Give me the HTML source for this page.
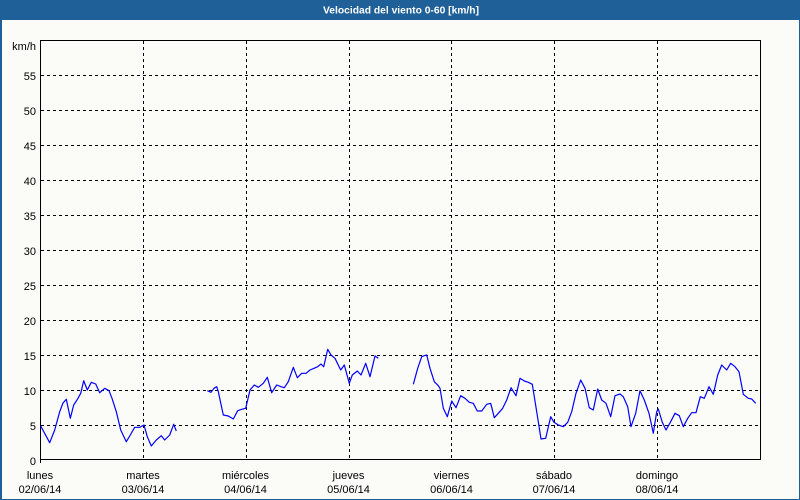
<!DOCTYPE html>
<html><head><meta charset="utf-8"><style>
html,body{margin:0;padding:0;background:#fbfcf8;}
svg{display:block;}
text{font-family:"Liberation Sans",Arial,sans-serif;}
</style></head><body>
<svg width="800" height="500" viewBox="0 0 800 500" xmlns="http://www.w3.org/2000/svg">
<rect x="0" y="0" width="800" height="500" fill="#fbfcf8"/>
<!-- outer border -->
<rect x="0" y="0" width="2" height="500" fill="#1f6098"/>
<rect x="799" y="0" width="1" height="500" fill="#1f6098"/>
<rect x="0" y="499" width="800" height="1" fill="#1f6098"/>
<!-- title bar -->
<rect x="0" y="0" width="800" height="20" fill="#1f6098"/>
<text x="401" y="13.5" fill="#ffffff" font-size="10.5" font-weight="bold" text-anchor="middle" textLength="156" lengthAdjust="spacingAndGlyphs">Velocidad del viento 0-60 [km/h]</text>

<!-- grid -->
<g stroke="#000" stroke-width="1" stroke-dasharray="3,3" shape-rendering="crispEdges" fill="none">
<line x1="41" y1="75.5" x2="760" y2="75.5"/>
<line x1="41" y1="110.5" x2="760" y2="110.5"/>
<line x1="41" y1="145.5" x2="760" y2="145.5"/>
<line x1="41" y1="180.5" x2="760" y2="180.5"/>
<line x1="41" y1="215.5" x2="760" y2="215.5"/>
<line x1="41" y1="250.5" x2="760" y2="250.5"/>
<line x1="41" y1="285.5" x2="760" y2="285.5"/>
<line x1="41" y1="320.5" x2="760" y2="320.5"/>
<line x1="41" y1="355.5" x2="760" y2="355.5"/>
<line x1="41" y1="390.5" x2="760" y2="390.5"/>
<line x1="41" y1="425.5" x2="760" y2="425.5"/>
<line x1="143.5" y1="41" x2="143.5" y2="460"/>
<line x1="246.5" y1="41" x2="246.5" y2="460"/>
<line x1="349.5" y1="41" x2="349.5" y2="460"/>
<line x1="451.5" y1="41" x2="451.5" y2="460"/>
<line x1="554.5" y1="41" x2="554.5" y2="460"/>
<line x1="657.5" y1="41" x2="657.5" y2="460"/>
</g>

<!-- frame -->
<g stroke="#000" stroke-width="1" shape-rendering="crispEdges" fill="none">
<line x1="40.5" y1="40" x2="40.5" y2="463"/>
<line x1="40" y1="40.5" x2="761" y2="40.5"/>
<line x1="760.5" y1="40" x2="760.5" y2="460"/>
<line x1="40" y1="459.5" x2="761" y2="459.5"/>
</g>

<!-- data -->
<g stroke="#0000ff" stroke-width="1.2" fill="none" stroke-linejoin="round">
<polyline points="40.7,426 49.7,442.7 54.7,430 59.7,411.7 63,403 66.3,399.3 70.3,418.3 73.7,405 78,398.3 80.7,393.3 83.7,380.7 87.3,390 91.3,382.3 95.7,384 99.7,392.7 104.7,388.3 109,390.7 112,398.3 116.3,411.7 120.7,430 126.3,441.7 130.3,435 134.7,427.3 139.7,427.3 144,425 147.3,436.7 151.3,446 156.3,440 161.3,435.7 164.7,440 169.7,435 173.7,424.3 176.3,431"/>
<polyline points="207.3,390.7 211,392.3 214,388.3 216.7,386.7 218.3,391.7 223.3,415 228.3,416 233.3,419 237.7,410.7 241.7,409.3 245.7,408.3 250,390 254.3,385 258.3,387.3 263.3,383.3 267.3,377.3 271.7,392.7 276.7,385 281,386.7 284.3,387.7 288.3,381.7 293.3,367.3 297.3,377.7 301.7,373.3 306,373.3 310,370 314,368.3 317.7,366.7 321,364 323.7,366.7 327.7,349.3 331,355 335,358.3 340.7,370 344.3,365 349.3,383.3 352.3,375 357.3,371 361,375 365.7,363.3 370,376.7 375,356 378.3,358.3"/>
<polyline points="413.3,384.3 417.7,368.3 421.7,356.7 424.3,355.7 426.7,355 430,368.3 434.3,381.7 438.3,385.7 440,388.3 443.3,408.3 447.3,416.7 451.7,401 456,407.7 460.7,395.7 465,398.3 469.3,402.3 473.3,403.3 477.3,411 481.7,411 486.7,404.3 490.7,403.3 494.3,417.7 498.3,413.3 502.7,408.3 506.7,400 511,387.7 516,395.7 520,378.3 524.3,381 528.3,382.3 532.3,384.3 536.7,411.7 541,439 545.7,438.3 550.7,416.7 554,422.3 558.3,425 563.3,426.7 567.7,422.3 571.7,411.7 576,393.3 580.7,380 585,388.3 589.3,407.7 593.3,410 597.7,389 601.7,400 606,403.3 610.7,416.7 615,395.7 620,394 623.3,396.7 627.7,406.7 631,426.7 635.7,413.3 640,390.7 644.3,400 649,413.3 653.3,433.3 656.7,411.7 658.3,409 662.3,422.3 666,430 670.7,421.7 675,413.3 679.3,415.7 683.3,426.7 687.7,418.3 691.7,412.7 696,412.7 700.3,396.7 704.3,398.3 709,386.7 713.3,394.3 717.7,375 721.7,365 726.7,370 730.7,363.3 735,366.7 739,371.7 743.3,394.3 748.3,398.3 751.7,399 755.7,403.3"/>
</g>

<!-- y labels -->
<g font-size="11" fill="#000" text-anchor="end">
<text x="36" y="50">km/h</text>
<text x="36" y="80">55</text>
<text x="36" y="115">50</text>
<text x="36" y="150">45</text>
<text x="36" y="185">40</text>
<text x="36" y="220">35</text>
<text x="36" y="255">30</text>
<text x="36" y="290">25</text>
<text x="36" y="325">20</text>
<text x="36" y="360">15</text>
<text x="36" y="395">10</text>
<text x="36" y="430">5</text>
<text x="36" y="465">0</text>
</g>

<!-- x labels -->
<g font-size="11" fill="#000" text-anchor="middle">
<text x="40" y="479">lunes</text>
<text x="40" y="493">02/06/14</text>
<text x="143" y="479">martes</text>
<text x="143" y="493">03/06/14</text>
<text x="245.5" y="479">miércoles</text>
<text x="245.5" y="493">04/06/14</text>
<text x="348.5" y="479">jueves</text>
<text x="348.5" y="493">05/06/14</text>
<text x="451.5" y="479">viernes</text>
<text x="451.5" y="493">06/06/14</text>
<text x="554" y="479">sábado</text>
<text x="554" y="493">07/06/14</text>
<text x="657" y="479">domingo</text>
<text x="657" y="493">08/06/14</text>
</g>
</svg>
</body></html>
